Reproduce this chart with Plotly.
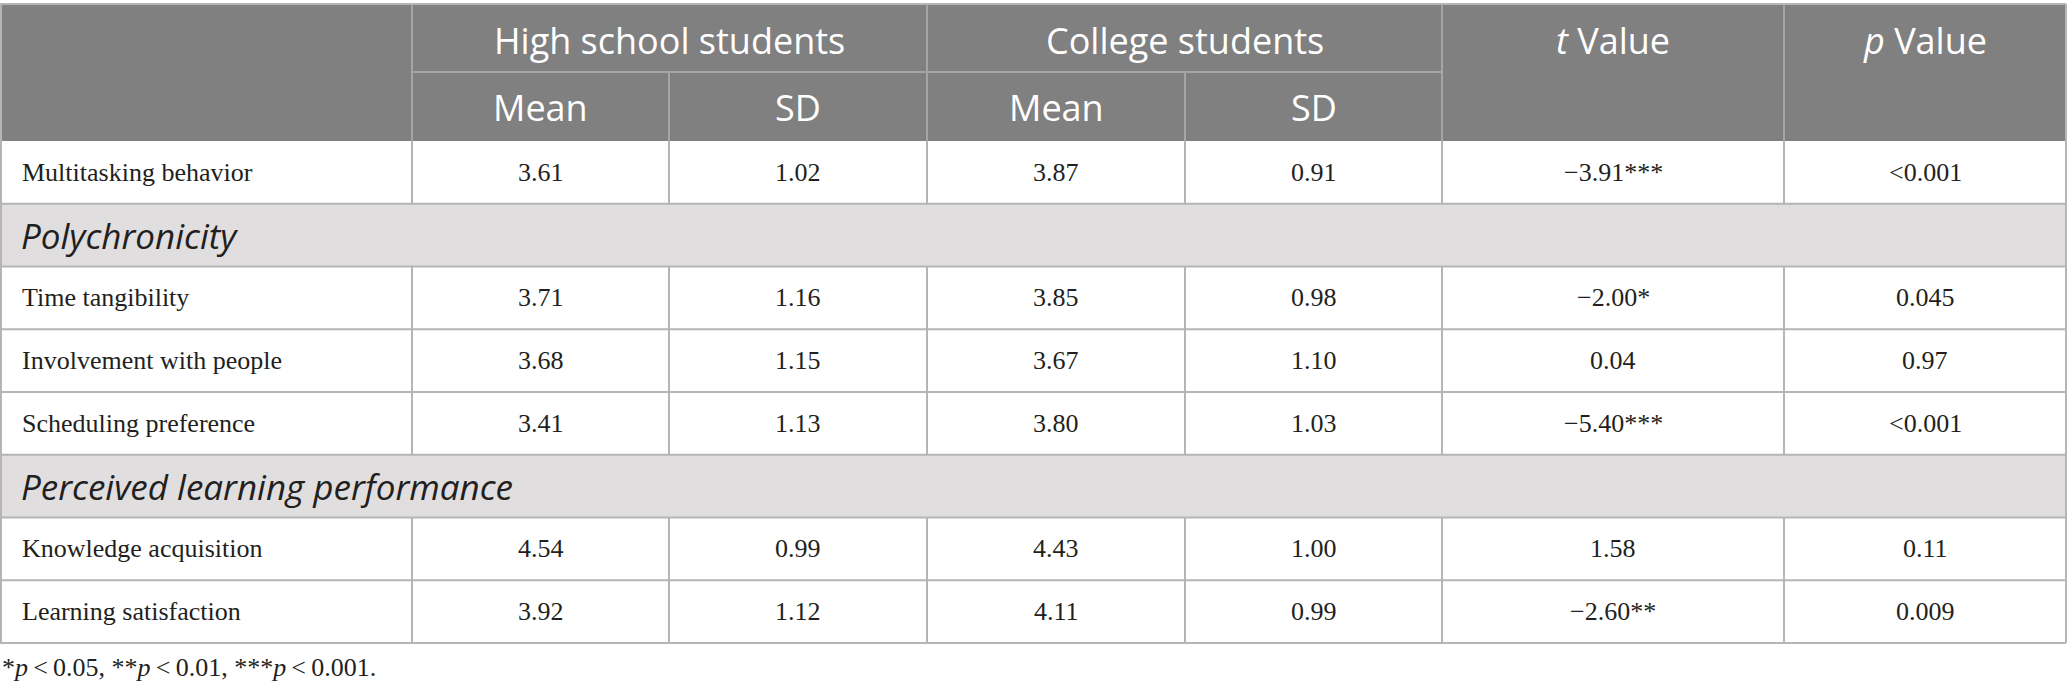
import plotly.graph_objects as go

# table content
measures = ["Multitasking behavior", "Time tangibility", "Involvement with people",
            "Scheduling preference", "Knowledge acquisition", "Learning satisfaction"]
hs_mean = ["3.61", "3.71", "3.68", "3.41", "4.54", "3.92"]
hs_sd = ["1.02", "1.16", "1.15", "1.13", "0.99", "1.12"]
col_mean = ["3.87", "3.85", "3.67", "3.80", "4.43", "4.11"]
col_sd = ["0.91", "0.98", "1.10", "1.03", "1.00", "0.99"]
t_values = ["−3.91***", "−2.00*", "0.04", "−5.40***", "1.58", "−2.60**"]
p_values = ["<0.001", "0.045", "0.97", "<0.001", "0.11", "0.009"]
# section heading shown before the measure with this index
sections = {1: "Polychronicity", 4: "Perceived learning performance"}

groups = ["High school students", "College students"]
sub_heads = ["Mean", "SD", "Mean", "SD"]
footnote = ("*<i>p</i>\u2009<\u20090.05, **<i>p</i>\u2009<\u20090.01, "
            "***<i>p</i>\u2009<\u20090.001.")

# geometry (pixels)
W, H = 2067, 697
col_edges = [0, 412, 669, 927, 1185, 1442, 1784, 2066]
top, head_mid, head_bot = 4, 72, 141
row_h = 62.75

HEAD_BG = "#7f807f"
HEAD_LINE = "#a4a5a4"
SEC_BG = "#e0dedf"
GRID = "#b5b5b5"
SANS = "Open Sans"
SERIF = "Liberation Serif"

fig = go.Figure()
fig.add_trace(go.Scatter(x=[0], y=[0], mode="markers", marker=dict(opacity=0),
                         hoverinfo="skip", showlegend=False))

shapes = []
annotations = []


def rect(x0, y0, x1, y1, color):
    shapes.append(dict(type="rect", xref="x", yref="y", x0=x0, y0=y0, x1=x1, y1=y1,
                       fillcolor=color, line=dict(width=0), layer="below"))


def line(x0, y0, x1, y1, color, width=2):
    shapes.append(dict(type="line", xref="x", yref="y", x0=x0, y0=y0, x1=x1, y1=y1,
                       line=dict(color=color, width=width)))


def text(x, y, s, font, size, color="#231f20", anchor="center", italic=False):
    annotations.append(dict(x=x, y=y, xref="x", yref="y", text=s, showarrow=False,
                            xanchor=anchor, yanchor="middle",
                            font=dict(family=font, size=size, color=color,
                                      style="italic" if italic else "normal")))


def mid(a, b):
    return (a + b) / 2


# header
rect(col_edges[0], top, col_edges[-1], head_bot, HEAD_BG)
line(col_edges[1], head_mid, col_edges[5], head_mid, HEAD_LINE)
for i in range(1, 7):
    y0 = head_mid if i in (2, 4) else top
    line(col_edges[i], y0, col_edges[i], head_bot, HEAD_LINE)

for g, name in enumerate(groups):
    text(mid(col_edges[1 + 2 * g], col_edges[3 + 2 * g]), mid(top, head_mid) + 2,
         name, SANS, 36, "white")
for k, name in enumerate(sub_heads):
    text(mid(col_edges[1 + k], col_edges[2 + k]), mid(head_mid, head_bot) + 1,
         name, SANS, 36, "white")
text(mid(col_edges[5], col_edges[6]), mid(top, head_mid) + 2, "<i>t</i> Value", SANS, 36, "white")
text(mid(col_edges[6], col_edges[7]), mid(top, head_mid) + 2, "<i>p</i> Value", SANS, 36, "white")

# body
y = head_bot
columns = [hs_mean, hs_sd, col_mean, col_sd, t_values, p_values]
for i, m in enumerate(measures):
    if i in sections:
        rect(col_edges[0], y, col_edges[-1], y + row_h, SEC_BG)
        text(col_edges[0] + 19, mid(y, y + row_h), sections[i], SANS, 35,
             anchor="left", italic=True)
        line(col_edges[0], y + row_h, col_edges[-1], y + row_h, GRID)
        y += row_h
    text(col_edges[0] + 20, mid(y, y + row_h), m, SERIF, 26, anchor="left")
    for k, col in enumerate(columns):
        text(mid(col_edges[1 + k], col_edges[2 + k]), mid(y, y + row_h), col[i], SERIF, 26)
    for e in col_edges[1:-1]:
        line(e, y, e, y + row_h, GRID)
    line(col_edges[0], y + row_h, col_edges[-1], y + row_h, GRID)
    y += row_h

# outer frame
line(col_edges[0], top, col_edges[-1], top, GRID)
line(col_edges[0] + 1, top, col_edges[0] + 1, y, GRID)
line(col_edges[-1], top, col_edges[-1], y, GRID)

text(col_edges[0], y + 24, footnote, SERIF, 26, anchor="left")

fig.update_layout(
    width=W, height=H,
    margin=dict(l=0, r=0, t=0, b=0),
    paper_bgcolor="white", plot_bgcolor="white",
    xaxis=dict(range=[0, W], visible=False, fixedrange=True),
    yaxis=dict(range=[H, 0], visible=False, fixedrange=True),
    shapes=shapes, annotations=annotations,
    showlegend=False,
)

fig.write_html("out.html", config={"displayModeBar": False},
               post_script="document.body.style.margin='0';document.body.style.overflow='hidden';")
